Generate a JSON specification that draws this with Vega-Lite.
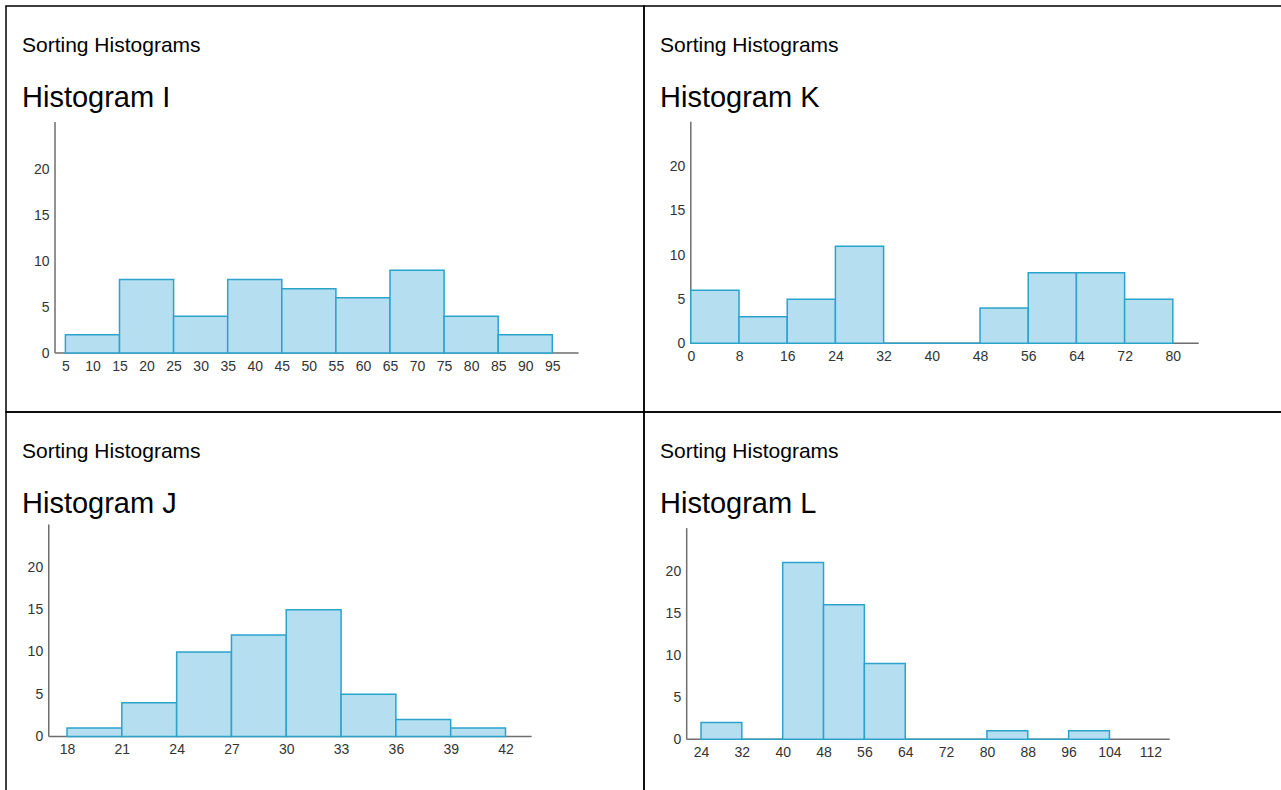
{
  "$schema": "https://vega.github.io/schema/vega-lite/v6.json",
  "background": "white",
  "padding": {"left": 5, "top": 5, "right": 0, "bottom": 0},
  "config": {
    "view": {"stroke": "black", "strokeWidth": 1.5},
    "axis": {"domain": false, "ticks": false, "grid": false, "title": null, "labelFont": "Liberation Sans", "labelFontSize": 14, "labelColor": "#333333", "labelOverlap": false, "labelFlush": false, "labelPadding": 6, "tickCount": 40},
    "title": {"anchor": "start", "frame": "group", "font": "Liberation Sans", "fontSize": 21, "fontWeight": "normal", "color": "black", "subtitleFont": "Liberation Sans", "subtitleFontSize": 29, "subtitleColor": "black", "subtitlePadding": 28, "dx": 16, "offset": -107}
  },
  "datasets": {
    "histI": [
      {"lo": 5, "hi": 15, "n": 2}, {"lo": 15, "hi": 25, "n": 8}, {"lo": 25, "hi": 35, "n": 4},
      {"lo": 35, "hi": 45, "n": 8}, {"lo": 45, "hi": 55, "n": 7}, {"lo": 55, "hi": 65, "n": 6},
      {"lo": 65, "hi": 75, "n": 9}, {"lo": 75, "hi": 85, "n": 4}, {"lo": 85, "hi": 95, "n": 2}
    ],
    "histK": [
      {"lo": 0, "hi": 8, "n": 6}, {"lo": 8, "hi": 16, "n": 3}, {"lo": 16, "hi": 24, "n": 5},
      {"lo": 24, "hi": 32, "n": 11}, {"lo": 32, "hi": 40, "n": 0}, {"lo": 40, "hi": 48, "n": 0},
      {"lo": 48, "hi": 56, "n": 4}, {"lo": 56, "hi": 64, "n": 8}, {"lo": 64, "hi": 72, "n": 8},
      {"lo": 72, "hi": 80, "n": 5}
    ],
    "histJ": [
      {"lo": 18, "hi": 21, "n": 1}, {"lo": 21, "hi": 24, "n": 4}, {"lo": 24, "hi": 27, "n": 10},
      {"lo": 27, "hi": 30, "n": 12}, {"lo": 30, "hi": 33, "n": 15}, {"lo": 33, "hi": 36, "n": 5},
      {"lo": 36, "hi": 39, "n": 2}, {"lo": 39, "hi": 42, "n": 1}
    ],
    "histL": [
      {"lo": 24, "hi": 32, "n": 2}, {"lo": 32, "hi": 40, "n": 0}, {"lo": 40, "hi": 48, "n": 21},
      {"lo": 48, "hi": 56, "n": 16}, {"lo": 56, "hi": 64, "n": 9}, {"lo": 64, "hi": 72, "n": 0},
      {"lo": 72, "hi": 80, "n": 0}, {"lo": 80, "hi": 88, "n": 1}, {"lo": 88, "hi": 96, "n": 0},
      {"lo": 96, "hi": 104, "n": 1}
    ]
  },
  "columns": 2,
  "spacing": 0,
  "bounds": "flush",
  "concat": [
    {
      "width": 638, "height": 406,
      "title": {"text": "Sorting Histograms", "subtitle": "Histogram I"},
      "layer": [
        {"data": {"values": [{}]}, "mark": {"type": "rule", "color": "#6e6e6e", "strokeWidth": 1.5},
         "encoding": {"x": {"datum": 3.08, "type": "quantitative"},
                      "y": {"datum": 0, "type": "quantitative"}, "y2": {"datum": 25.1}}},
        {"data": {"values": [{}]}, "mark": {"type": "rule", "color": "#6e6e6e", "strokeWidth": 1.5},
         "encoding": {"x": {"datum": 3.08, "type": "quantitative"}, "x2": {"datum": 99.86},
                      "y": {"datum": 0, "type": "quantitative"}}},
        {"data": {"name": "histI"}, "mark": {"type": "rect", "fill": "#b5dff0", "stroke": "#2ba3cb", "strokeWidth": 1.5},
         "encoding": {
           "x": {"field": "lo", "type": "quantitative", "scale": {"domain": [-5.98, 111.95], "nice": false, "zero": false}, "axis": {"values": [5,10,15,20,25,30,35,40,45,50,55,60,65,70,75,80,85,90,95], "tickCount": 40, "offset": -59, "labelOverlap": false}},
           "x2": {"field": "hi"},
           "y": {"field": "n", "type": "quantitative", "scale": {"domain": [-6.41, 37.72], "nice": false, "zero": false}, "axis": {"values": [0,5,10,15,20], "offset": -49, "labelOverlap": false}},
           "y2": {"datum": 0}
         }}
      ]
    },
    {
      "width": 638, "height": 406,
      "title": {"text": "Sorting Histograms", "subtitle": "Histogram K"},
      "layer": [
        {"data": {"values": [{}]}, "mark": {"type": "rule", "color": "#6e6e6e", "strokeWidth": 1.5},
         "encoding": {"x": {"datum": 0, "type": "quantitative"},
                      "y": {"datum": 0, "type": "quantitative"}, "y2": {"datum": 25.1}}},
        {"data": {"values": [{}]}, "mark": {"type": "rule", "color": "#6e6e6e", "strokeWidth": 1.5},
         "encoding": {"x": {"datum": 0, "type": "quantitative"}, "x2": {"datum": 84.3},
                      "y": {"datum": 0, "type": "quantitative"}}},
        {"data": {"name": "histK"}, "mark": {"type": "rect", "fill": "#b5dff0", "stroke": "#2ba3cb", "strokeWidth": 1.5},
         "encoding": {
           "x": {"field": "lo", "type": "quantitative", "scale": {"domain": [-7.77, 98.12], "nice": false, "zero": false}, "axis": {"values": [0,8,16,24,32,40,48,56,64,72,80], "tickCount": 40, "offset": -68.7, "labelOverlap": false}},
           "x2": {"field": "hi"},
           "y": {"field": "n", "type": "quantitative", "scale": {"domain": [-7.78, 38.2], "nice": false, "zero": false}, "axis": {"values": [0,5,10,15,20], "offset": -46.8, "labelOverlap": false}},
           "y2": {"datum": 0}
         }}
      ]
    },
    {
      "width": 638, "height": 385,
      "title": {"text": "Sorting Histograms", "subtitle": "Histogram J"},
      "layer": [
        {"data": {"values": [{}]}, "mark": {"type": "rule", "color": "#6e6e6e", "strokeWidth": 1.5},
         "encoding": {"x": {"datum": 17.0, "type": "quantitative"},
                      "y": {"datum": 0, "type": "quantitative"}, "y2": {"datum": 25.1}}},
        {"data": {"values": [{}]}, "mark": {"type": "rule", "color": "#6e6e6e", "strokeWidth": 1.5},
         "encoding": {"x": {"datum": 17.0, "type": "quantitative"}, "x2": {"datum": 43.43},
                      "y": {"datum": 0, "type": "quantitative"}}},
        {"data": {"name": "histJ"}, "mark": {"type": "rect", "fill": "#b5dff0", "stroke": "#2ba3cb", "strokeWidth": 1.5},
         "encoding": {
           "x": {"field": "lo", "type": "quantitative", "scale": {"domain": [14.66, 49.58], "nice": false, "zero": false}, "axis": {"values": [18,21,24,27,30,33,36,39,42], "tickCount": 40, "offset": -60.5, "labelOverlap": false}},
           "x2": {"field": "hi"},
           "y": {"field": "n", "type": "quantitative", "scale": {"domain": [-7.16, 38.4], "nice": false, "zero": false}, "axis": {"values": [0,5,10,15,20], "offset": -42.7, "labelOverlap": false}},
           "y2": {"datum": 0}
         }}
      ]
    },
    {
      "width": 638, "height": 385,
      "title": {"text": "Sorting Histograms", "subtitle": "Histogram L"},
      "layer": [
        {"data": {"values": [{}]}, "mark": {"type": "rule", "color": "#6e6e6e", "strokeWidth": 1.5},
         "encoding": {"x": {"datum": 21.2, "type": "quantitative"},
                      "y": {"datum": 0, "type": "quantitative"}, "y2": {"datum": 25.1}}},
        {"data": {"values": [{}]}, "mark": {"type": "rule", "color": "#6e6e6e", "strokeWidth": 1.5},
         "encoding": {"x": {"datum": 21.2, "type": "quantitative"}, "x2": {"datum": 115.8},
                      "y": {"datum": 0, "type": "quantitative"}}},
        {"data": {"name": "histL"}, "mark": {"type": "rect", "fill": "#b5dff0", "stroke": "#2ba3cb", "strokeWidth": 1.5},
         "encoding": {
           "x": {"field": "lo", "type": "quantitative", "scale": {"domain": [12.84, 137.79], "nice": false, "zero": false}, "axis": {"values": [24,32,40,48,56,64,72,80,88,96,104,112], "tickCount": 40, "offset": -57.7, "labelOverlap": false}},
           "x2": {"field": "hi"},
           "y": {"field": "n", "type": "quantitative", "scale": {"domain": [-6.86, 38.9], "nice": false, "zero": false}, "axis": {"values": [0,5,10,15,20], "offset": -42.7, "labelOverlap": false}},
           "y2": {"datum": 0}
         }}
      ]
    }
  ]
}
